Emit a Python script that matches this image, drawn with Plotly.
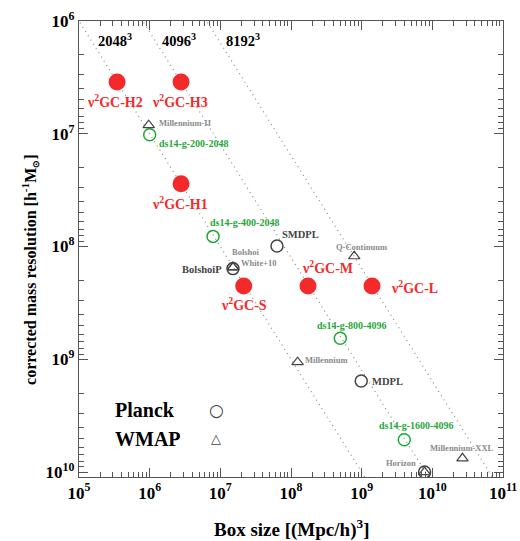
import numpy as np
import plotly.graph_objects as go

# ---------------- data ----------------
nu2gc_names = ["ν<sup>2</sup>GC-H2", "ν<sup>2</sup>GC-H3", "ν<sup>2</sup>GC-H1",
               "ν<sup>2</sup>GC-S", "ν<sup>2</sup>GC-M", "ν<sup>2</sup>GC-L"]
nu2gc_box = [3.46e5, 2.78e6, 2.78e6, 2.14e7, 1.74e8, 1.40e9]
nu2gc_mass = [3.48e6, 3.48e6, 2.77e7, 2.24e8, 2.24e8, 2.24e8]

ds14_names = ["ds14-g-200-2048", "ds14-g-400-2048", "ds14-g-800-4096", "ds14-g-1600-4096"]
ds14_box = [1.0e6, 7.89e6, 4.98e8, 4.01e9]
ds14_mass = [1.02e7, 8.13e7, 6.50e8, 5.18e9]

planck_names = ["SMDPL", "BolshoiP", "MDPL", ""]
planck_box = [6.34e7, 1.51e7, 9.86e8, 7.76e9]
planck_mass = [9.9e7, 1.57e8, 1.56e9, 1.0e10]

wmap_names = ["Millennium-II", "Bolshoi", "White+10", "Q-Continuum",
              "Millennium", "Millennium-XXL", "Horizon"]
wmap_box = [9.7e5, 1.51e7, 1.51e7, 7.85e8, 1.24e8, 2.67e10, 7.76e9]
wmap_mass = [8.4e6, 1.53e8, 1.53e8, 1.22e8, 1.06e9, 7.55e9, 1.0e10]

n_particles = [2048, 4096, 8192]
n_labels = ["2048<sup>3</sup>", "4096<sup>3</sup>", "8192<sup>3</sup>"]
omega_m_rho_crit = 8.6e10  # h^2 Msun / Mpc^3 (Omega_m * rho_crit)

x_tickvals = [1e5, 1e6, 1e7, 1e8, 1e9, 1e10, 1e11]
x_ticktext = ["10<sup>5</sup>", "10<sup>6</sup>", "10<sup>7</sup>", "10<sup>8</sup>",
              "10<sup>9</sup>", "10<sup>10</sup>", "10<sup>11</sup>"]
y_tickvals = [1e6, 1e7, 1e8, 1e9, 1e10]
y_ticktext = ["10<sup>6</sup>", "10<sup>7</sup>", "10<sup>8</sup>", "10<sup>9</sup>",
              "10<sup>10</sup>"]

x_title = "Box size [(Mpc/h)<sup>3</sup>]"
y_title = ("corrected mass resolution [h<sup>-1</sup>M"
           "<sub><span style='font-size:9px'>⊙</span></sub>]")

# ---------------- styles ----------------
FONT = "Liberation Serif"
RED = "#f42a2a"
GREEN = "#1fa83a"
DARK = "#444444"
GREY = "#8a8a8a"

fig = go.Figure()

# constant particle-number lines
line_x = np.array([1e4, 1e12])
for n in n_particles:
    fig.add_trace(go.Scatter(
        x=line_x, y=omega_m_rho_crit * line_x / n**3, mode="lines",
        line=dict(color="#8a8a8a", width=1.2, dash="1px,4px"),
        hoverinfo="skip", showlegend=False))

fig.add_trace(go.Scatter(x=ds14_box, y=ds14_mass, mode="markers", showlegend=False,
                         marker=dict(symbol="circle-open", size=12, color=GREEN,
                                     line=dict(width=1.5, color=GREEN))))
fig.add_trace(go.Scatter(x=planck_box, y=planck_mass, mode="markers", showlegend=False,
                         marker=dict(symbol="circle-open", size=12, color=DARK,
                                     line=dict(width=1.5, color=DARK))))
fig.add_trace(go.Scatter(x=wmap_box, y=wmap_mass, mode="markers", showlegend=False,
                         marker=dict(symbol="triangle-up-open", size=10, color=DARK,
                                     line=dict(width=1.2, color=DARK))))
fig.add_trace(go.Scatter(x=nu2gc_box, y=nu2gc_mass, mode="markers", showlegend=False,
                         marker=dict(symbol="circle", size=17, color=RED,
                                     line=dict(width=0))))

ann = []
def lab(x, y, text, color, size, xs, ys, xa="center"):
    ann.append(dict(x=np.log10(x), y=np.log10(y), xref="x", yref="y", text=text,
                    showarrow=False, xanchor=xa, yanchor="middle", xshift=xs, yshift=ys,
                    font=dict(family=FONT, size=size, color=color, weight="bold")))

# nu2GC labels
red_off = [(-2, -19, "center"), (-1, -19, "center"), (-1, -19, "center"),
           (0, -18, "center"), (19, 19, "center"), (17, -1, "left")]
for nm, bx, ms, (xs, ys, xa) in zip(nu2gc_names, nu2gc_box, nu2gc_mass, red_off):
    lab(bx, ms, nm, RED, 14, xs, ys, xa)

green_off = [(7, -9), (-5, 14), (-25, 13), (-27, 14)]
for nm, bx, ms, (xs, ys) in zip(ds14_names, ds14_box, ds14_mass, green_off):
    lab(bx, ms, nm, GREEN, 10, xs, ys, "left")

planck_off = [(3, 12, "left"), (-9, -1, "right"), (9, 0, "left"), (0, 0, "left")]
for nm, bx, ms, (xs, ys, xa) in zip(planck_names, planck_box, planck_mass, planck_off):
    if nm:
        lab(bx, ms, nm, DARK, 10.5, xs, ys, xa)

wmap_off = [(8, 2, "left"), (-3, 15, "left"), (6, 4, "left"), (7, 9, "center"),
            (5, 2, "left"), (0, 10, "center"), (-7, 9, "right")]
for nm, bx, ms, (xs, ys, xa) in zip(wmap_names, wmap_box, wmap_mass, wmap_off):
    lab(bx, ms, nm, GREY, 8.5, xs, ys, xa)

# labels of the constant-N lines near the top
y_top = 10 ** 6.171
for n, t in zip(n_particles, n_labels):
    x_at = y_top * n**3 / omega_m_rho_crit
    ann.append(dict(x=np.log10(x_at), y=np.log10(y_top), xref="x", yref="y", text=t,
                    showarrow=False, xanchor="center", yanchor="middle", xshift=24,
                    font=dict(family=FONT, size=14.5, color="black", weight="bold")))

# legend
for txt, sym, py in [("Planck", "○", 0.148), ("WMAP", "△", 0.084)]:
    ann.append(dict(x=0.081, y=py, xref="paper", yref="paper", text=txt, showarrow=False,
                    xanchor="left", yanchor="middle",
                    font=dict(family=FONT, size=20, color="black", weight="bold")))
    ann.append(dict(x=0.324, y=py, xref="paper", yref="paper", text=sym, showarrow=False,
                    xanchor="center", yanchor="middle",
                    font=dict(family="DejaVu Sans", size=17 if sym == "○" else 13, color=DARK)))

# axis titles
ann.append(dict(x=0.5, y=-0.114, xref="paper", yref="paper", text=x_title, showarrow=False,
                xanchor="center", yanchor="middle",
                font=dict(family=FONT, size=19, color="black", weight="bold")))
ann.append(dict(x=-0.117, y=0.455, xref="paper", yref="paper", text=y_title, showarrow=False,
                xanchor="center", yanchor="middle", textangle=-90,
                font=dict(family=FONT, size=16, color="black", weight="bold")))

axis_common = dict(type="log", showgrid=False, zeroline=False, showline=True,
                   linecolor="#555555", linewidth=1.2, mirror="allticks",
                   ticks="inside", ticklen=9, tickwidth=1, tickcolor="#555555",
                   automargin=False,
                   minor=dict(ticks="inside", ticklen=5, tickcolor="#555555", dtick="D1",
                              showgrid=False),
                   tickfont=dict(family=FONT, size=17, color="black", weight="bold"))

fig.update_layout(
    width=520, height=541,
    margin=dict(l=79, r=17, t=21, b=64),
    paper_bgcolor="white", plot_bgcolor="white",
    annotations=ann,
    xaxis=dict(**axis_common, range=[5, 11], tickvals=x_tickvals, ticktext=x_ticktext),
    yaxis=dict(**axis_common, range=[10.044, 6], tickvals=y_tickvals, ticktext=y_ticktext),
)

fig.write_html("out.html", config={"displayModeBar": False},
               post_script="document.body.style.margin='0px';")
